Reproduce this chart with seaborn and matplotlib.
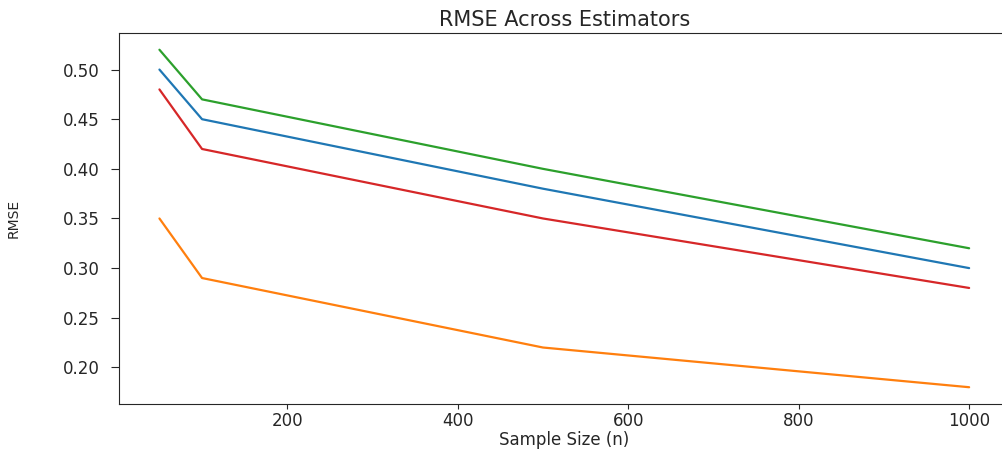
import matplotlib
matplotlib.use("Agg")

import matplotlib.pyplot as plt
import pandas as pd
import seaborn as sns

sample_sizes = [50, 100, 500, 1000]
estimators = ["Estimator A", "Estimator B", "Estimator C", "Estimator D"]
rmse_a = [0.50, 0.45, 0.38, 0.30]
rmse_b = [0.35, 0.29, 0.22, 0.18]
rmse_c = [0.52, 0.47, 0.40, 0.32]
rmse_d = [0.48, 0.42, 0.35, 0.28]

df = pd.DataFrame({
    "n": sample_sizes * 4,
    "rmse": rmse_a + rmse_b + rmse_c + rmse_d,
    "estimator": [e for e in estimators for _ in sample_sizes],
})

sns.set_style("ticks")
plt.rcParams["font.family"] = ["DejaVu Sans"]

fig = plt.figure(figsize=(10.03, 4.5), dpi=100)
# the reference is cropped on the right, the axes run past the edge
ax = fig.add_axes([0.1186, 0.102, 0.888, 0.825])
sns.lineplot(data=df, x="n", y="rmse", hue="estimator",
             palette=sns.color_palette("tab10", 4), linewidth=1.6,
             legend=False, ax=ax)
ax.spines["right"].set_visible(False)

ax.set_title("RMSE Across Estimators", fontsize=15, pad=5)
ax.set_xlabel("Sample Size (n)", fontsize=12, labelpad=1)
ax.set_ylabel("RMSE", fontsize=10)
ax.yaxis.set_label_coords(-0.11, 0.5)
ax.set_xticks([200, 400, 600, 800, 1000])
ax.set_yticks([0.20, 0.25, 0.30, 0.35, 0.40, 0.45, 0.50])
ax.tick_params(labelsize=12)
ax.tick_params(axis="y", length=6, pad=8)
ax.tick_params(axis="x", pad=2)

fig.savefig("out.png", dpi=100)
plt.close(fig)
